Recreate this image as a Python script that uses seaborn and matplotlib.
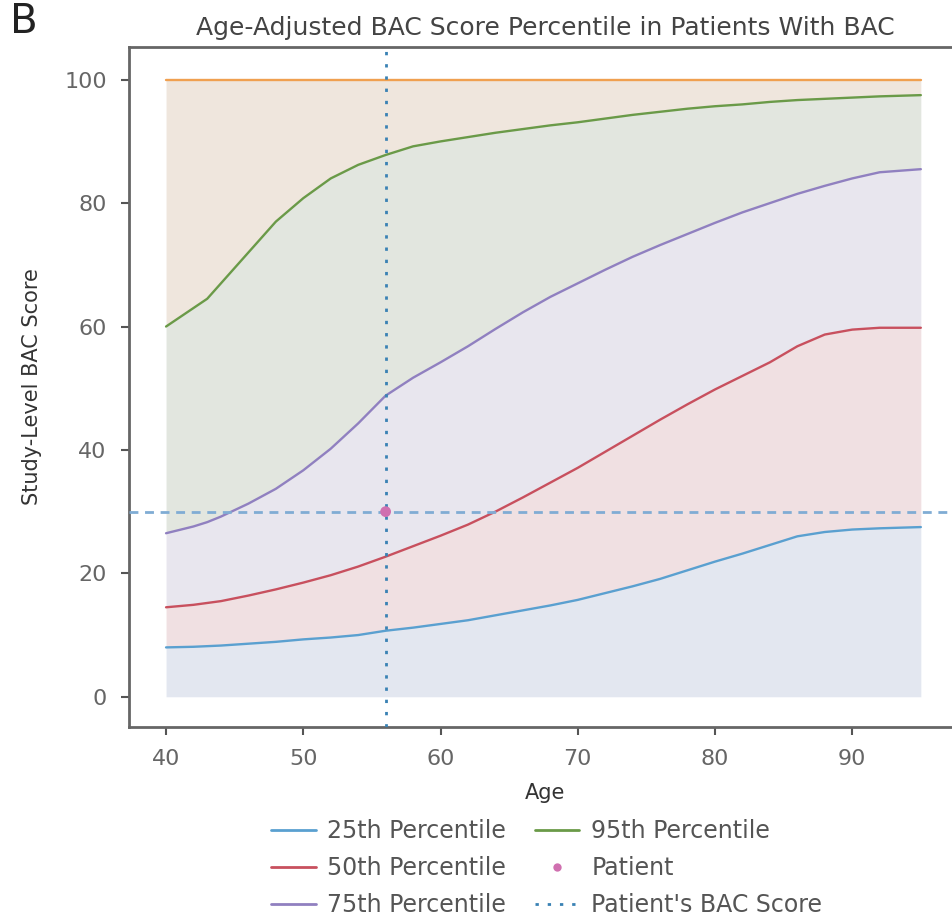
import numpy as np
import pandas as pd
import matplotlib
matplotlib.use("Agg")
import matplotlib.pyplot as plt
import seaborn as sns
from matplotlib.lines import Line2D

ages = [40, 42, 43, 44, 46, 48, 50, 52, 54, 56, 58, 60, 62, 64, 66, 68, 70, 72, 74, 76, 78, 80, 82, 84, 86, 88, 90, 92, 95]
p25 = [8.0, 8.1, 8.2, 8.3, 8.6, 8.9, 9.3, 9.6, 10.0, 10.7, 11.2, 11.8, 12.4, 13.2, 14.0, 14.8, 15.7, 16.8, 17.9, 19.1,
       20.5, 21.9, 23.2, 24.6, 26.0, 26.7, 27.1, 27.3, 27.5]
p50 = [14.5, 14.9, 15.2, 15.5, 16.4, 17.4, 18.5, 19.7, 21.1, 22.7, 24.4, 26.1, 27.9, 30.0, 32.3, 34.7, 37.1, 39.7, 42.3,
       44.9, 47.4, 49.8, 52.0, 54.2, 56.8, 58.7, 59.5, 59.8, 59.8]
p75 = [26.5, 27.6, 28.3, 29.2, 31.3, 33.7, 36.7, 40.2, 44.3, 48.8, 51.7, 54.2, 56.8, 59.6, 62.3, 64.8, 67.0, 69.2, 71.3,
       73.2, 75.0, 76.8, 78.5, 80.0, 81.5, 82.8, 84.0, 85.0, 85.5]
p95 = [60.0, 63.0, 64.5, 67.0, 72.0, 77.0, 80.8, 84.0, 86.2, 87.8, 89.2, 90.0, 90.7, 91.4, 92.0, 92.6, 93.1, 93.7, 94.3,
       94.8, 95.3, 95.7, 96.0, 96.4, 96.7, 96.9, 97.1, 97.3, 97.5]
p100 = [100.0] * len(ages)
patient_age = 56
patient_score = 30
x_ticks = [40, 50, 60, 70, 80, 90]
y_ticks = [0, 20, 40, 60, 80, 100]
labels = ["25th Percentile", "50th Percentile", "75th Percentile", "95th Percentile", "Patient", "Patient's BAC Score"]

sns.set_style("white")
plt.rcParams['font.family'] = ['DejaVu Sans']

fig = plt.figure(figsize=(9.52, 9.16), dpi=100)
ax = fig.add_axes([129/952, 1 - 727/916, (962 - 129)/952, (727 - 47)/916])

df = pd.DataFrame({"age": ages, "p25": p25, "p50": p50, "p75": p75, "p95": p95, "p100": p100})
fills = [(None, "p25", "#e3e7f0"), ("p25", "p50", "#f0e0e2"), ("p50", "p75", "#e8e6ee"),
         ("p75", "p95", "#e2e6df"), ("p95", "p100", "#efe6dd")]
for lo, hi, c in fills:
    low = 0 if lo is None else df[lo]
    ax.fill_between(df["age"], low, df[hi], color=c, lw=0, zorder=1)

line_cols = {"p25": "#5aa0d0", "p50": "#c8505e", "p75": "#9080c0", "p95": "#6a9a48", "p100": "#f0a050"}
for k, c in line_cols.items():
    sns.lineplot(data=df, x="age", y=k, color=c, lw=1.7, ax=ax, zorder=3)

vdash = (0, (1.2, 3.2))
ax.axvline(patient_age, color="#3a82b4", lw=2.0, ls=vdash, zorder=4)
ax.axhline(patient_score, color="#80acd4", lw=2.0, ls=(0, (3.2, 2.4)), zorder=4)
sns.scatterplot(x=[patient_age], y=[patient_score], color="#d070b0", s=60, ax=ax, zorder=5, edgecolor="none")

ax.set_xlim(37.3, 98.0)
ax.set_ylim(-4.9, 105.3)
ax.set_xticks(x_ticks)
ax.set_yticks(y_ticks)
ax.tick_params(axis="both", which="both", direction="out", length=6, width=1.5, color="#555555",
               labelsize=16, labelcolor="#666666", left=True, bottom=True, pad=10)
for s in ax.spines.values():
    s.set_color("#666666")
    s.set_linewidth(2.0)

ax.set_xlabel("Age", fontsize=15, color="#333333", labelpad=10)
ax.set_ylabel("Study-Level BAC Score", fontsize=15, color="#333333", labelpad=16)

fig.text(0.573, 0.969, "Age-Adjusted BAC Score Percentile in Patients With BAC", ha="center", va="center",
         fontsize=18, color="#444444")
fig.text(0.010, 0.976, "B", ha="left", va="center", fontsize=29, color="#222222")

handles = [
    Line2D([], [], color="#5aa0d0", lw=2.0),
    Line2D([], [], color="#c8505e", lw=2.0),
    Line2D([], [], color="#9080c0", lw=2.0),
    Line2D([], [], color="#6a9a48", lw=2.0),
    Line2D([], [], color="#d070b0", marker="o", ls="none", markersize=6, markeredgecolor="none"),
    Line2D([], [], color="#3a82b4", lw=2.0, ls=vdash),
]
fig.legend(handles, labels, ncol=2, loc="center", bbox_to_anchor=(0.574, 0.052), frameon=False,
           fontsize=17, labelcolor="#555555", handlelength=1.9, columnspacing=1.2, labelspacing=0.55,
           handletextpad=0.5, borderpad=0.1)

fig.savefig("out.png", dpi=100)
